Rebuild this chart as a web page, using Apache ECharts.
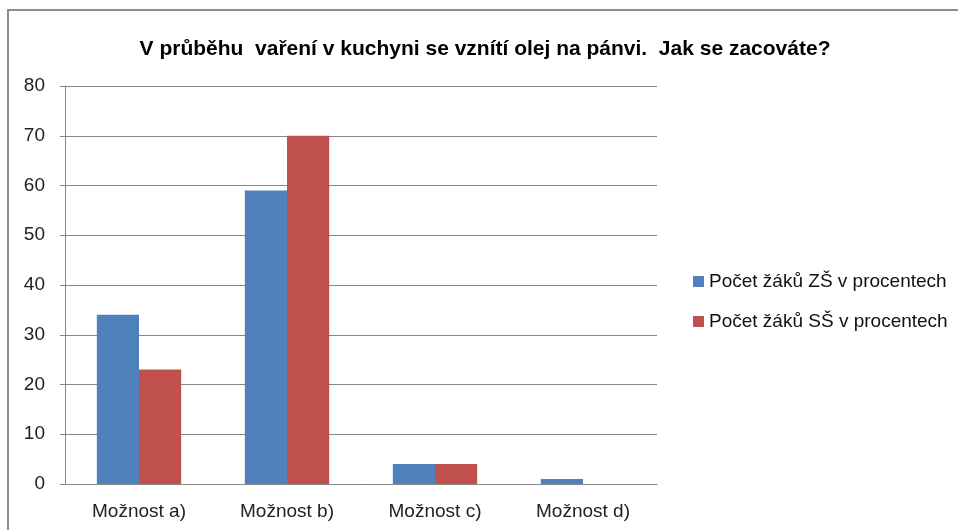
<!DOCTYPE html>
<html>
<head>
<meta charset="utf-8">
<script src="https://cdn.jsdelivr.net/npm/echarts@6/dist/echarts.min.js"></script>
<style>
  html, body { margin: 0; padding: 0; background: #fff; }
  #chart { width: 958px; height: 530px; }
</style>
</head>
<body>
<div id="chart"></div>
<script>
// data
const categories = ['Možnost a)', 'Možnost b)', 'Možnost c)', 'Možnost d)'];
const zsValues = [34, 59, 4, 1];
const ssValues = [23, 70, 4, 0];
const seriesNames = ['Počet žáků ZŠ v procentech', 'Počet žáků SŠ v procentech'];

const chart = echarts.init(document.getElementById('chart'));

const option = {
    animation: false,
    textStyle: { fontFamily: 'Liberation Sans' },
    title: {
        text: 'V průběhu  vaření v kuchyni se vznítí olej na pánvi.  Jak se zacováte?',
        left: 480,
        textAlign: 'center',
        top: 34,
        textStyle: {
            fontFamily: 'Liberation Sans',
            fontWeight: 'bold',
            fontSize: 21,
            color: '#000'
        }
    },
    graphic: [{
        type: 'rect',
        shape: { x: 8, y: 10, width: 1000, height: 600 },
        style: { fill: 'none', stroke: '#8c8c8c', lineWidth: 2 },
        silent: true
    }],
    legend: {
        orient: 'vertical',
        left: 688,
        top: 267,
        itemWidth: 11,
        itemHeight: 11,
        itemGap: 21,
        icon: 'rect',
        textStyle: { fontSize: 19, color: '#111' },
        data: seriesNames
    },
    grid: {
        left: 65,
        right: 301,
        top: 86,
        bottom: 46
    },
    xAxis: {
        type: 'category',
        data: categories,
        axisLine: { lineStyle: { color: '#868686', width: 1 } },
        axisTick: { show: false },
        axisLabel: { fontSize: 19, color: '#222', margin: 18 }
    },
    yAxis: {
        type: 'value',
        min: 0,
        max: 80,
        interval: 10,
        axisLine: { show: true, lineStyle: { color: '#868686' } },
        axisTick: { show: true, length: 5, lineStyle: { color: '#868686' } },
        axisLabel: { fontSize: 19, color: '#222', margin: 20 },
        splitLine: { lineStyle: { color: '#868686' } }
    },
    series: [
        {
            name: seriesNames[0],
            type: 'bar',
            data: zsValues,
            barGap: '0%',
            barCategoryGap: '43%',
            itemStyle: { color: '#4F81BD' }
        },
        {
            name: seriesNames[1],
            type: 'bar',
            data: ssValues,
            itemStyle: { color: '#C0504D' }
        }
    ]
};

chart.setOption(option);
</script>
</body>
</html>
